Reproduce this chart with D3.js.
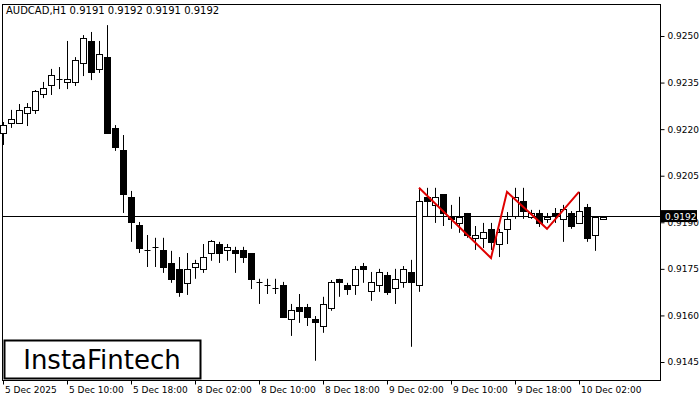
<!DOCTYPE html>
<html><head><meta charset="utf-8">
<script src="https://cdn.jsdelivr.net/npm/d3@7"></script>
<style>body{margin:0;background:#fff}text{font-family:"DejaVu Sans",sans-serif}</style>
</head><body><svg id="c" width="700" height="400"></svg>
<script>
// candles, one per hour
var opens = [.92188,.92220,.92220,.92252,.92262,.92313,.92342,.92362,.92352,.92352,.92413,.92484,.92394,.92432,.92204,.92133,.91982,.91891,.91811,.91821,
.91811,.91769,.91750,.91705,.91756,.91750,.91801,.91830,.91811,.91811,.91811,.91801,.91708,.91698,.91689,.91698,.91589,.91627,.91627,.91589,
.91566,.91624,.91718,.91698,.91698,.91759,.91679,.91698,.91730,.91689,.91708,.91740,.91698,.91982,.91956,.91991,.91917,.91898,.91930,.91850,
.91850,.91879,.91830,.91879,.91920,.91969,.91917,.91930,.91911,.91930,.91911,.91930,.91898,.91949,.91859,.91911];
var highs = [.92223,.92262,.92281,.92284,.92326,.92352,.92394,.92400,.92484,.92432,.92503,.92513,.92484,.92535,.92213,.92181,.92001,.91901,.91859,.91850,
.91850,.91808,.91788,.91801,.91779,.91830,.91843,.91837,.91830,.91821,.91821,.91801,.91718,.91718,.91718,.91708,.91637,.91669,.91637,.91598,
.91660,.91714,.91718,.91705,.91759,.91769,.91740,.91750,.91740,.91750,.91759,.91779,.92011,.92011,.92011,.91991,.91956,.91982,.91930,.91888,
.91898,.91898,.91879,.91933,.92011,.92011,.91940,.91940,.91930,.91946,.91956,.91936,.91998,.91959,.91917,.91917];
var lows = [.92149,.92204,.92220,.92210,.92249,.92300,.92310,.92329,.92329,.92339,.92371,.92358,.92381,.92188,.92130,.91930,.91837,.91801,.91756,.91756,
.91737,.91705,.91660,.91666,.91718,.91737,.91776,.91769,.91776,.91737,.91769,.91685,.91637,.91669,.91669,.91595,.91534,.91576,.91566,.91454,
.91544,.91615,.91660,.91666,.91666,.91705,.91647,.91676,.91666,.91637,.91689,.91499,.91676,.91917,.91898,.91888,.91879,.91866,.91850,.91811,
.91817,.91811,.91788,.91830,.91911,.91911,.91911,.91885,.91898,.91898,.91837,.91879,.91898,.91837,.91808,.91911];
var closes = [.92213,.92233,.92262,.92271,.92323,.92333,.92374,.92362,.92362,.92423,.92494,.92384,.92442,.92188,.92143,.91991,.91901,.91817,.91811,.91821,
.91756,.91718,.91676,.91750,.91769,.91788,.91840,.91801,.91821,.91801,.91788,.91718,.91708,.91698,.91689,.91595,.91618,.91615,.91595,.91579,
.91637,.91708,.91708,.91685,.91750,.91750,.91708,.91740,.91676,.91718,.91750,.91708,.91969,.91969,.91982,.91930,.91911,.91917,.91859,.91859,
.91869,.91837,.91869,.91911,.91982,.91936,.91930,.91898,.91917,.91920,.91943,.91888,.91936,.91850,.91917,.91917];
var priceTicks = [0.9145,0.9160,0.9175,0.9190,0.9205,0.9220,0.9235,0.9250];
var timeLabels = ["5 Dec 2025","5 Dec 10:00","5 Dec 18:00","8 Dec 02:00","8 Dec 10:00","8 Dec 18:00","9 Dec 02:00","9 Dec 10:00","9 Dec 18:00","10 Dec 02:00"];
var timeIdx = [0,8,16,24,32,40,48,56,64,72];
var patIdx = [52,61,63,68,72];
var patPrice = [.92011,.91785,.91998,.91879,.91998];
var last = 0.9192;

var svg = d3.select("#c");
var x = d3.scaleLinear().domain([0,75]).range([3,603]);
var y = d3.scaleLinear().domain([0.9145,0.9250]).range([362,36]);

svg.append("text").attr("x",6).attr("y",14).attr("font-size",10).text("AUDCAD,H1  0.9191 0.9192 0.9191 0.9192");

// frame
svg.append("rect").attr("x",2.5).attr("y",4.5).attr("width",658).attr("height",376).attr("fill","none").attr("stroke","#000");

// right axis
var ya = d3.axisRight(y).tickValues(priceTicks).tickFormat(d3.format(".4f")).tickSize(4);
var gy = svg.append("g").attr("transform","translate(660.5,0)").call(ya);
gy.select(".domain").remove();
gy.selectAll("text").attr("font-size",9).attr("font-family","DejaVu Sans").attr("x",7);

// bottom axis
var gx = svg.append("g").attr("transform","translate(0,380.5)");
timeIdx.forEach(function(i,k){
  gx.append("line").attr("x1",Math.round(x(i))+0.5).attr("x2",Math.round(x(i))+0.5).attr("y1",0).attr("y2",4).attr("stroke","#000");
  gx.append("text").attr("x",x(i)+2).attr("y",12).attr("font-size",9).text(timeLabels[k]);
});

// last price line
svg.append("line").attr("x1",2).attr("x2",660).attr("y1",Math.round(y(last))+0.5).attr("y2",Math.round(y(last))+0.5).attr("stroke","#000");

var g = svg.append("g");
opens.forEach(function(o,i){
  var cx = Math.round(x(i))+0.5, c = closes[i];
  var up = c >= o;
  g.append("line").attr("x1",cx).attr("x2",cx).attr("y1",y(highs[i])).attr("y2",y(lows[i])).attr("stroke","#000");
  var t = Math.round(y(Math.max(o,c))), b = Math.round(y(Math.min(o,c)));
  if (b - t < 1) {
    g.append("line").attr("x1",cx-3).attr("x2",cx+3).attr("y1",t+0.5).attr("y2",t+0.5).attr("stroke","#000");
  } else {
    g.append("rect").attr("x",cx-3).attr("y",t+0.5).attr("width",6).attr("height",b-t)
      .attr("fill",up?"#fff":"#000").attr("stroke","#000");
  }
});

// pattern
svg.append("path").attr("fill","none").attr("stroke","#e00000").attr("stroke-width",2)
  .attr("d", d3.line().x(function(d){return x(d[0]);}).y(function(d){return y(d[1]);})(patIdx.map(function(d,i){return [d,patPrice[i]];})));

// last price tag
var ly = y(last);
svg.append("rect").attr("x",661).attr("y",ly-6).attr("width",36).attr("height",12).attr("fill","#000");
svg.append("text").attr("x",665).attr("y",ly+4).attr("font-size",9).attr("fill","#fff").text("0.9192");

// logo
svg.append("rect").attr("x",4.5).attr("y",340.5).attr("width",196).attr("height",38).attr("fill","#fff").attr("stroke","#000").attr("stroke-width",2);
svg.append("text").attr("x",102).attr("y",369).attr("text-anchor","middle").attr("font-size",26).attr("font-family","Roboto").text("InstaFintech");
</script></body></html>
